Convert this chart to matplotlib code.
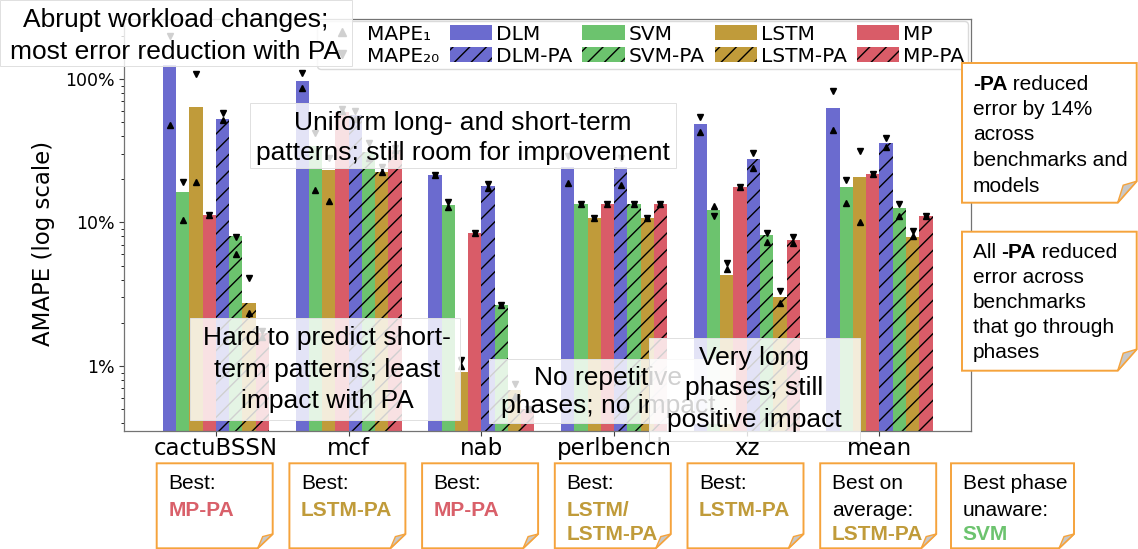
import matplotlib
matplotlib.use("Agg")
import matplotlib.pyplot as plt
from matplotlib.patches import Rectangle, Polygon, Patch
from matplotlib.lines import Line2D
from matplotlib.text import Annotation
from matplotlib.ticker import LogLocator, NullFormatter, FuncFormatter

W, H = 1138, 549

benchmarks = ["cactuBSSN", "mcf", "nab", "perlbench", "xz", "mean"]
models = ["DLM", "SVM", "LSTM", "MP", "DLM-PA", "SVM-PA", "LSTM-PA", "MP-PA"]
model_colors = ["#6b6bcf", "#6cc36e", "#c09b3a", "#d95c68",
                "#6b6bcf", "#6cc36e", "#c09b3a", "#d95c68"]
model_hatch = ["", "", "", "", "//", "//", "//", "//"]

# AMAPE (%) per benchmark, in model order
amape_cactubssn = [125, 16.4, 64, 11.3, 53, 8.0, 2.73, 1.7]
amape_mcf = [97, 34, 23.3, 59, 56, 31, 22.5, 32]
amape_nab = [21.4, 13.2, 0.91, 8.5, 18.0, 2.66, 0.68, 0.5]
amape_perlbench = [24.5, 13.4, 10.7, 13.5, 24.5, 13.4, 10.7, 13.5]
amape_xz = [48.3, 12.2, 4.31, 17.6, 27.7, 8.18, 3.04, 7.55]
amape_mean = [63, 17.8, 20.6, 21.7, 36, 12.7, 7.96, 11.1]

# MAPE over a 1-step horizon (%)
mape1_cactubssn = [48, 10.4, 19.2, 11.3, 51.5, 6.0, 2.35, 1.6]
mape1_mcf = [86, 16.9, 14.1, 60, 53, 28, 22.5, 32]
mape1_nab = [21.4, 12.8, 1.0, 8.5, 17.4, 2.66, 0.62, 0.5]
mape1_perlbench = [18.8, 13.4, 10.7, 13.5, 18.3, 13.4, 10.7, 13.5]
mape1_xz = [43, 13.0, 4.75, 17.6, 23.8, 7.36, 2.75, 7.2]
mape1_mean = [44, 13.6, 10.0, 21.7, 33.8, 11.1, 8.1, 11.1]

# MAPE over a 20-step horizon (%)
mape20_cactubssn = [199, 19.2, 109, 11.3, 57.5, 7.95, 4.1, 1.75]
mape20_mcf = [110, 42, 28, 62, 60, 36, 24.5, 33]
mape20_nab = [21.4, 13.9, 1.1, 8.5, 18.6, 2.66, 0.75, 0.5]
mape20_perlbench = [29, 13.4, 10.7, 13.5, 28, 13.4, 10.7, 13.5]
mape20_xz = [54.6, 11.1, 5.2, 17.6, 30.4, 8.5, 3.31, 7.9]
mape20_mean = [82, 19.8, 31.4, 21.7, 38.6, 13.5, 8.7, 11.1]

amape = [amape_cactubssn, amape_mcf, amape_nab, amape_perlbench, amape_xz, amape_mean]
mape1 = [mape1_cactubssn, mape1_mcf, mape1_nab, mape1_perlbench, mape1_xz, mape1_mean]
mape20 = [mape20_cactubssn, mape20_mcf, mape20_nab, mape20_perlbench, mape20_xz, mape20_mean]

ylim = (0.352, 262)
xlim = (-0.693, 5.69)
bar_w = 0.1

ARIAL = "Liberation Sans"
ORANGE = "#f5a33c"


def fx(x):
    return x / W


def fy(y):
    return 1 - y / H


fig = plt.figure(figsize=(W / 100, H / 100), dpi=100)
ax = fig.add_axes([fx(124), fy(431), fx(971) - fx(124), fy(19) - fy(431)])

for j, model in enumerate(models):
    xs = [i + (j - 3.5) * bar_w for i in range(len(benchmarks))]
    vals = [row[j] for row in amape]
    ax.bar(xs, vals, width=bar_w, color=model_colors[j], hatch=model_hatch[j],
           edgecolor="black", linewidth=0, zorder=2)
    ax.plot(xs, [row[j] for row in mape1], ls="none", marker="^", ms=5,
            color="black", zorder=3)
    ax.plot(xs, [row[j] for row in mape20], ls="none", marker="v", ms=5,
            color="black", zorder=3)

ax.set_yscale("log")
ax.set_ylim(*ylim)
ax.set_xlim(*xlim)
ax.set_xticks(range(len(benchmarks)))
ax.set_xticklabels(benchmarks, fontsize=16.5)
ax.yaxis.set_major_locator(LogLocator(base=10, numticks=10))
ax.yaxis.set_minor_locator(LogLocator(base=10, subs=range(2, 10), numticks=20))
ax.yaxis.set_minor_formatter(NullFormatter())
ax.yaxis.set_major_formatter(FuncFormatter(lambda v, p: f"{v:g}%"))
ax.tick_params(axis="y", labelsize=12.5, colors="0.25", labelcolor="black")
ax.tick_params(axis="x", pad=1, colors="0.25", labelcolor="black")
for s in ax.spines.values():
    s.set_color("0.45")
    s.set_linewidth(0.9)
ax.set_ylabel("AMAPE (log scale)", fontsize=16.5)
ax.yaxis.set_label_coords(-0.081, 0.455)

handles = [
    Line2D([], [], ls="none", marker="^", ms=6, color="black"),
    Line2D([], [], ls="none", marker="v", ms=6, color="black"),
]
labels = ["MAPE\u2081", "MAPE\u2082\u2080"]
for j in (0, 1, 2, 3):
    for k in (j, j + 4):
        handles.append(Patch(facecolor=model_colors[k], hatch=model_hatch[k],
                             edgecolor="black", linewidth=0))
        labels.append(models[k])
leg = ax.legend(handles, labels, ncol=5, loc="upper right",
                bbox_to_anchor=(fx(968), fy(21)), bbox_transform=fig.transFigure,
                borderaxespad=0, fontsize=14.5, handlelength=2.1,
                handleheight=0.75, handletextpad=0.2, columnspacing=0.5,
                labelspacing=0.15, borderpad=0.18, fancybox=True,
                edgecolor="0.82", framealpha=0.8)

# Semi-transparent callouts over the plot
z = 10
callouts = [
    ((0, 0, 352, 66), 176, [("Abrupt workload changes;", 27),
                            ("most error reduction with PA", 59)]),
    ((250, 103, 676, 168), 463, [("Uniform long- and short-term", 130),
                                 ("patterns; still room for improvement", 160)]),
    ((190, 318, 460, 420), 327, [("Hard to predict short-", 345),
                                 ("term patterns; least", 376.5),
                                 ("impact with PA", 408)]),
    ((489, 359, 735, 423), 608, [("No repetitive", 385),
                                 ("phases; no impact", 413.5)]),
    ((649, 338, 860, 441), 754, [("Very long", 365),
                                 ("phases; still", 395.5),
                                 ("positive impact", 426.5)]),
]
for (x0, y0, x1, y1), cx, lines in callouts:
    fig.add_artist(Rectangle((fx(x0), fy(y1)), fx(x1) - fx(x0), fy(y0) - fy(y1),
                             transform=fig.transFigure, facecolor=(1, 1, 1, 0.82),
                             edgecolor="0.88", linewidth=0.7, zorder=z))
    for s, by in lines:
        fig.text(fx(cx), fy(by), s, ha="center", va="baseline", fontsize=19,
                 family=ARIAL, zorder=z + 1)
    z += 2


def note_box(x0, y0, x1, y1, f_x, f_y, i_x, i_y):
    outline = [(x0, y0), (x1, y0), (x1, y1 - f_y), (x1 - f_x, y1), (x0, y1)]
    fig.add_artist(Polygon([(fx(a), fy(b)) for a, b in outline], closed=True,
                           transform=fig.transFigure, facecolor="white",
                           edgecolor=ORANGE, linewidth=1.4, zorder=30))
    flap = [(x1 - f_x, y1), (x1 - i_x, y1 - i_y), (x1, y1 - f_y)]
    fig.add_artist(Polygon([(fx(a), fy(b)) for a, b in flap], closed=True,
                           transform=fig.transFigure, facecolor="#c8c8c8",
                           edgecolor=ORANGE, linewidth=1.0, zorder=31))


def rich_line(x, y, parts, size=15):
    first, weight, color = parts[0]
    t = fig.text(fx(x), fy(y), first, ha="left", va="baseline", fontsize=size,
                 family=ARIAL, weight=weight, color=color, zorder=32)
    for s, weight, color in parts[1:]:
        t = Annotation(s, xy=(1, 0), xycoords=t, ha="left", va="bottom",
                       fontsize=size, family=ARIAL, weight=weight, color=color,
                       zorder=32)
        fig.add_artist(t)


RED, GOLD, GREEN = "#d9606a", "#c09b3a", "#6cc36e"
best_notes = [
    [("Best:", "normal", "black"), ("MP-PA", "bold", RED)],
    [("Best:", "normal", "black"), ("LSTM-PA", "bold", GOLD)],
    [("Best:", "normal", "black"), ("MP-PA", "bold", RED)],
    [("Best:", "normal", "black"), ("LSTM/", "bold", GOLD), ("LSTM-PA", "bold", GOLD)],
    [("Best:", "normal", "black"), ("LSTM-PA", "bold", GOLD)],
    [("Best on", "normal", "black"), ("average:", "normal", "black"),
     ("LSTM-PA", "bold", GOLD)],
    [("Best phase", "normal", "black"), ("unaware:", "normal", "black"),
     ("SVM", "bold", GREEN)],
]
note_baselines = [489.3, 515.5, 540]
for i, lines in enumerate(best_notes):
    if i < 6:
        x0 = 216 + 132.7 * i - 59.3
        x1 = x0 + 116
    else:
        x0, x1 = 951, 1074
    note_box(x0, 463.3, x1, 548.3, 15, 14.3, 10, 11.7)
    for (s, w, c), by in zip(lines, note_baselines):
        rich_line(x0 + 11.6, by, [(s, w, c)])

note_box(962, 63, 1136.7, 202.7, 19, 21.5, 13.5, 17.5)
rich_line(972.7, 90, [("-PA", "bold", "black"), (" reduced", "normal", "black")])
for s, by in [("error by 14%", 115), ("across", 140.5),
              ("benchmarks and", 166), ("models", 191.5)]:
    rich_line(972.7, by, [(s, "normal", "black")])

note_box(962, 231.7, 1136.7, 370.7, 19, 21.5, 13.5, 17.5)
rich_line(972.7, 258.3, [("All ", "normal", "black"), ("-PA", "bold", "black"),
                         (" reduced", "normal", "black")])
for s, by in [("error across", 283), ("benchmarks", 308.3),
              ("that go through", 333.3), ("phases", 358.3)]:
    rich_line(972.7, by, [(s, "normal", "black")])

fig.savefig("out.png", dpi=100)
